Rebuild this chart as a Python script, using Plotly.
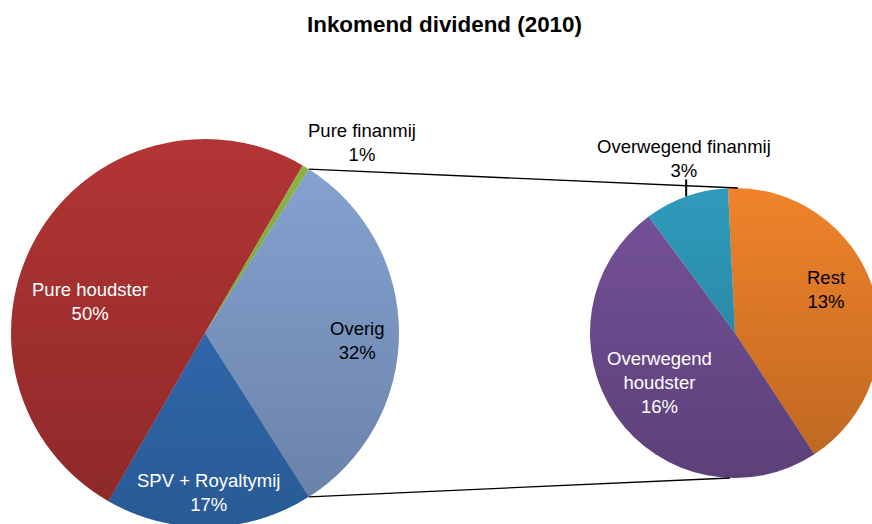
import base64
import math
import plotly.graph_objects as go

# ---------------- data ----------------
title_text = "Inkomend dividend (2010)"

main_labels = ["Overig", "SPV + Royaltymij", "Pure houdster", "Pure finanmij"]
main_values = [32.0, 17.3, 50.1, 0.6]

sub_labels = ["Rest", "Overwegend houdster", "Overwegend finanmij"]
sub_values = [13.3, 15.7, 3.0]

split_label = "Overig"  # the main slice that is broken out into the second pie

# ---------------- styling / layout ----------------
W, H = 880, 528  # drawn slightly larger than the 872x524 viewport; edges clip like the reference
FONT = "Liberation Sans, Arial, sans-serif"

main_colors = ["#86A4D4", "#3473BE", "#B33434", "#8DB645"]
sub_colors = ["#F0832A", "#76529A", "#2F9BBC"]

main_cx, main_cy, main_r = 205, 333, 194
sub_cx, sub_cy, sub_r = 735, 333, 145

split_idx = main_labels.index(split_label)
main_total = sum(main_values)
# rotate so the broken-out slice is centred on the right (90 degrees)
main_rot = 90 - 360 * main_values[split_idx] / main_total / 2 - 360 * sum(main_values[:split_idx]) / main_total
sub_rot = -2.8

main_text_pos = {"Overig": (357, 340), "SPV + Royaltymij": (208, 492),
                 "Pure houdster": (90, 301), "Pure finanmij": (362, 143)}
sub_text_pos = {"Rest": (826, 289), "Overwegend houdster": (659, 382),
                "Overwegend finanmij": (684, 158)}
white_text = {"SPV + Royaltymij", "Pure houdster", "Overwegend houdster"}
display_names = {"Overwegend houdster": "Overwegend<br>houdster"}


def px(x):
    return x / W


def py(y):
    return 1 - y / H


def domain(cx, cy, r):
    return dict(x=[(cx - r) / W, (cx + r) / W], y=[(H - cy - r) / H, (H - cy + r) / H])


def point(cx, cy, r, ang):
    a = math.radians(ang)
    return cx + r * math.sin(a), cy - r * math.cos(a)


fig = go.Figure()
fig.add_trace(go.Pie(labels=main_labels, values=main_values, sort=False, direction="clockwise",
                     rotation=main_rot, domain=domain(main_cx, main_cy, main_r),
                     marker=dict(colors=main_colors, line=dict(width=0)),
                     textinfo="none", hoverinfo="label+percent", showlegend=False))
fig.add_trace(go.Pie(labels=sub_labels, values=sub_values, sort=False, direction="clockwise",
                     rotation=sub_rot, domain=domain(sub_cx, sub_cy, sub_r),
                     marker=dict(colors=sub_colors, line=dict(width=0)),
                     textinfo="none", hoverinfo="label+value", showlegend=False))


def label_annotation(lab, val, pos):
    x, y = pos
    txt = f"{display_names.get(lab, lab)}<br>{round(100 * val / main_total)}%"
    return dict(x=px(x), y=py(y), xref="paper", yref="paper", text=txt,
                showarrow=False, xanchor="center", yanchor="middle", align="center",
                font=dict(family=FONT, size=18.5,
                          color="white" if lab in white_text else "black"))


annotations = [label_annotation(l, v, main_text_pos[l]) for l, v in zip(main_labels, main_values)]
annotations += [label_annotation(l, v, sub_text_pos[l]) for l, v in zip(sub_labels, sub_values)]

# connector lines between the broken-out slice and the secondary pie
a0 = main_rot + 360 * sum(main_values[:split_idx]) / main_total
a1 = a0 + 360 * main_values[split_idx] / main_total
p_top = point(main_cx, main_cy, main_r, a0)
p_bot = point(main_cx, main_cy, main_r, a1)
s_top = (sub_cx + 3, sub_cy - sub_r)
s_bot = (sub_cx - 5, sub_cy + sub_r)
shapes = []
for (xa, ya), (xb, yb) in [(p_top, s_top), (p_bot, s_bot)]:
    shapes.append(dict(type="line", xref="paper", yref="paper", x0=px(xa), y0=py(ya),
                       x1=px(xb), y1=py(yb), line=dict(color="black", width=1.3)))

# leader line for the small outside label of the second pie
sub_total = sum(sub_values)
small = sub_labels.index("Overwegend finanmij")
mid = sub_rot + 360 * (sum(sub_values[:small]) + sub_values[small] / 2) / sub_total
lx, ly = point(sub_cx, sub_cy, sub_r, mid)
shapes.append(dict(type="line", xref="paper", yref="paper", x0=px(lx), y0=py(ly),
                   x1=px(lx), y1=py(ly - 17), line=dict(color="black", width=2)))

# soft vertical shading over each pie (lighter top, darker bottom)
svg = ('<svg xmlns="http://www.w3.org/2000/svg" width="200" height="200" viewBox="0 0 100 100">'
       '<defs><linearGradient id="g" x1="0" y1="0" x2="0" y2="1">'
       '<stop offset="0" stop-color="#000" stop-opacity="0"/>'
       '<stop offset="1" stop-color="#000" stop-opacity="0.22"/></linearGradient></defs>'
       '<circle cx="50" cy="50" r="50" fill="url(#g)"/></svg>')
src = "data:image/svg+xml;base64," + base64.b64encode(svg.encode()).decode()
images = []
for cx, cy, r in [(main_cx, main_cy, main_r), (sub_cx, sub_cy, sub_r)]:
    images.append(dict(source=src, xref="paper", yref="paper", x=px(cx - r), y=py(cy - r),
                       sizex=2 * r / W, sizey=2 * r / H, xanchor="left", yanchor="top",
                       sizing="stretch", layer="above"))

fig.update_layout(
    width=W, height=H,
    margin=dict(l=0, r=0, t=0, b=0),
    paper_bgcolor="white", plot_bgcolor="white",
    title=dict(text=f"<b>{title_text}</b>", x=444.5 / W, y=py(24), xanchor="center",
               yanchor="middle", font=dict(family=FONT, size=22.4, color="black")),
    annotations=annotations, shapes=shapes, images=images,
)

fig.write_html("out.html", config={"displayModeBar": False},
               post_script="document.documentElement.style.overflow='hidden';"
                           "document.body.style.overflow='hidden';")
